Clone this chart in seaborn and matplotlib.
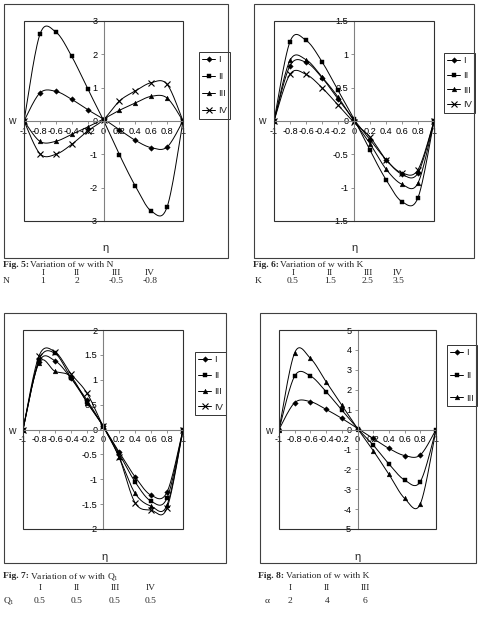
import numpy as np
import matplotlib
matplotlib.use('Agg')
import matplotlib.pyplot as plt
import seaborn as sns
from matplotlib.lines import Line2D
from matplotlib.patches import Rectangle

sns.set_theme(style='white')
plt.rcParams['font.family'] = ['Liberation Sans', 'DejaVu Sans']
plt.rcParams['mathtext.fontset'] = 'custom'
plt.rcParams['mathtext.rm'] = 'Liberation Serif'

# ---------------- data ----------------
eta = [-1.0, -0.8, -0.6, -0.4, -0.2, 0.0, 0.2, 0.4, 0.6, 0.8, 1.0]
eta_tick_labels = ['-1', '-0.8', '-0.6', '-0.4', '-0.2', '0', '0.2', '0.4', '0.6', '0.8', '1']

# Fig. 5 : variation of w with N
fig5_I = [0, 0.84, 0.89, 0.65, 0.34, 0.06, -0.26, -0.58, -0.80, -0.78, 0]
fig5_II = [0, 2.60, 2.67, 1.94, 0.97, 0.02, -1.01, -1.95, -2.70, -2.58, 0]
fig5_III = [0, -0.61, -0.61, -0.40, -0.18, 0.06, 0.32, 0.54, 0.74, 0.69, 0]
fig5_IV = [0, -0.98, -1.00, -0.70, -0.30, 0.04, 0.60, 0.90, 1.15, 1.10, 0]
fig5_yticks = [-3, -2, -1, 0, 1, 2, 3]
fig5_ytick_labels = ['-3', '-2', '-1', '0', '1', '2', '3']

# Fig. 6 : variation of w with K
fig6_I = [0, 0.83, 0.88, 0.65, 0.33, 0.02, -0.28, -0.58, -0.80, -0.78, 0]
fig6_II = [0, 1.19, 1.21, 0.89, 0.46, 0.03, -0.44, -0.88, -1.21, -1.15, 0]
fig6_III = [0, 0.91, 0.92, 0.66, 0.36, 0.0, -0.34, -0.72, -0.95, -0.93, 0]
fig6_IV = [0, 0.70, 0.70, 0.50, 0.24, -0.02, -0.24, -0.58, -0.78, -0.73, 0]
fig6_yticks = [-1.5, -1.0, -0.5, 0, 0.5, 1.0, 1.5]
fig6_ytick_labels = ['-1.5', '-1', '-0.5', '0', '0.5', '1', '1.5']

# Fig. 7 : variation of w with Q1
fig7_I = [0, 1.36, 1.38, 1.03, 0.59, 0.07, -0.45, -0.95, -1.32, -1.26, 0]
fig7_II = [0, 1.40, 1.53, 1.04, 0.56, 0.07, -0.48, -1.05, -1.44, -1.38, 0]
fig7_III = [0, 1.34, 1.17, 1.06, 0.54, 0.07, -0.55, -1.28, -1.54, -1.52, 0]
fig7_IV = [0, 1.48, 1.56, 1.12, 0.73, 0.07, -0.55, -1.47, -1.62, -1.58, 0]
fig7_yticks = [-2, -1.5, -1, -0.5, 0, 0.5, 1, 1.5, 2]
fig7_ytick_labels = ['-2', '-1.5', '-1', '-0.5', '0', '0.5', '1', '1.5', '2']

# Fig. 8 : variation of w with alpha
fig8_I = [0, 1.35, 1.40, 1.01, 0.56, 0.05, -0.45, -0.95, -1.31, -1.28, 0]
fig8_II = [0, 2.69, 2.69, 1.90, 0.98, 0.05, -0.78, -1.73, -2.54, -2.62, 0]
fig8_III = [0, 3.86, 3.58, 2.40, 1.23, 0.05, -1.06, -2.25, -3.46, -3.74, 0]
fig8_yticks = [-5, -4, -3, -2, -1, 0, 1, 2, 3, 4, 5]
fig8_ytick_labels = ['-5', '-4', '-3', '-2', '-1', '0', '1', '2', '3', '4', '5']

legend4 = ['I', 'II', 'III', 'IV']
legend3 = ['I', 'II', 'III']

# caption tables
fig5_cols = ['I', 'II', 'III', 'IV']; fig5_vals = ['1', '2', '-0.5', '-0.8']
fig6_cols = ['I', 'II', 'III', 'IV']; fig6_vals = ['0.5', '1.5', '2.5', '3.5']
fig7_cols = ['I', 'II', 'III', 'IV']; fig7_vals = ['0.5', '0.5', '0.5', '0.5']
fig8_cols = ['I', 'II', 'III']; fig8_vals = ['2', '4', '6']

markers = ['D', 's', '^', 'x']
msizes = [2.8, 3.0, 3.4, 3.8]

W, H = 481, 632


def fx(p):
    return p / W


def fy(p):
    return 1 - p / H


def smooth(x, y, n=24):
    """Excel-style smoothed line (Catmull-Rom Bezier) through the data points."""
    x = np.asarray(x, float); y = np.asarray(y, float)
    px = np.concatenate([[x[0]], x, [x[-1]]])
    py = np.concatenate([[y[0]], y, [y[-1]]])
    t = np.linspace(0, 1, n, endpoint=False)[:, None]
    xs, ys = [], []
    for i in range(1, len(px) - 2):
        p0 = np.array([px[i - 1], py[i - 1]]); p1 = np.array([px[i], py[i]])
        p2 = np.array([px[i + 1], py[i + 1]]); p3 = np.array([px[i + 2], py[i + 2]])
        c1 = p1 + (p2 - p0) / 6.0
        c2 = p2 - (p3 - p1) / 6.0
        b = ((1 - t) ** 3) * p1 + 3 * ((1 - t) ** 2) * t * c1 + 3 * (1 - t) * t ** 2 * c2 + t ** 3 * p2
        xs.append(b[:, 0]); ys.append(b[:, 1])
    xs.append([x[-1]]); ys.append([y[-1]])
    return np.concatenate(xs), np.concatenate(ys)


panels = [
    dict(plot=(24, 21, 183, 221), frame=(4, 4, 228, 258), series=[fig5_I, fig5_II, fig5_III, fig5_IV],
         labels=legend4, yt=fig5_yticks, ytl=fig5_ytick_labels, leg=(199, 52), lsp=0.85,
         w=(8, 121), eta_lab=(106, 248)),
    dict(plot=(274, 21, 434, 221), frame=(254, 4, 474, 258), series=[fig6_I, fig6_II, fig6_III, fig6_IV],
         labels=legend4, yt=fig6_yticks, ytl=fig6_ytick_labels, leg=(444, 53), lsp=0.6,
         w=(258, 121), eta_lab=(355, 248)),
    dict(plot=(23, 330, 183, 529), frame=(4, 313, 226, 563), series=[fig7_I, fig7_II, fig7_III, fig7_IV],
         labels=legend4, yt=fig7_yticks, ytl=fig7_ytick_labels, leg=(195, 352), lsp=0.72,
         w=(8, 431), eta_lab=(105, 557)),
    dict(plot=(279, 330, 436, 529), frame=(260, 313, 476, 563), series=[fig8_I, fig8_II, fig8_III],
         labels=legend3, yt=fig8_yticks, ytl=fig8_ytick_labels, leg=(447, 345), lsp=1.45,
         w=(265, 431), eta_lab=(358, 557)),
]

fig = plt.figure(figsize=(W / 100, H / 100), dpi=100)
fig.patch.set_facecolor('white')

for p in panels:
    x0, y0, x1, y1 = p['plot']
    ax = fig.add_axes([fx(x0), fy(y1), (x1 - x0) / W, (y1 - y0) / H])
    ax.set_facecolor('white')
    for k, ser in enumerate(p['series']):
        sx, sy = smooth(eta, ser)
        sns.lineplot(x=sx, y=sy, ax=ax, color='black', lw=0.7, sort=False, estimator=None, legend=False)
        ax.plot(eta, ser, linestyle='none', marker=markers[k], ms=msizes[k], color='black',
                mec='black', mew=0.8 if markers[k] == 'x' else 0.3)
    ymin, ymax = p['yt'][0], p['yt'][-1]
    ax.set_xlim(-1, 1)
    ax.set_ylim(ymin, ymax)
    ax.set_xticks(eta)
    ax.set_xticklabels(eta_tick_labels)
    ax.set_yticks(p['yt'])
    ax.set_yticklabels(p['ytl'])
    ax.spines['left'].set_position(('data', 0))
    ax.spines['bottom'].set_position(('data', 0))
    ax.spines['top'].set_visible(False)
    ax.spines['right'].set_visible(False)
    for s in ('left', 'bottom'):
        ax.spines[s].set_color('#808080')
        ax.spines[s].set_linewidth(0.8)
    ax.tick_params(axis='both', direction='out', length=2.5, width=0.6, color='#808080',
                   labelsize=6.6, pad=1.5, labelcolor='black', left=True, bottom=True)
    ax.add_patch(Rectangle((0, 0), 1, 1, transform=ax.transAxes, fill=False,
                           ec='#303030', lw=0.8, clip_on=False, zorder=5))
    handles = [Line2D([0], [0], color='black', lw=0.7, marker=markers[k], ms=msizes[k],
                      mew=0.8 if markers[k] == 'x' else 0.3) for k in range(len(p['labels']))]
    lx, ly = p['leg']
    leg = ax.legend(handles, p['labels'], loc='upper left', bbox_to_anchor=(fx(lx), fy(ly)),
                    bbox_transform=fig.transFigure, frameon=True, fancybox=False,
                    edgecolor='black', fontsize=6.8, borderpad=0.35, labelspacing=p['lsp'],
                    handlelength=1.35, handletextpad=0.3, borderaxespad=0)
    leg.get_frame().set_linewidth(0.7)
    fig.text(fx(p['w'][0]), fy(p['w'][1]), 'w', fontsize=7.5, ha='left', va='center')
    fig.text(fx(p['eta_lab'][0]), fy(p['eta_lab'][1]), 'η', fontsize=8, ha='center', va='center')
    fx0, fy0, fx1, fy1 = p['frame']
    fig.add_artist(Rectangle((fx(fx0), fy(fy1)), (fx1 - fx0) / W, (fy1 - fy0) / H,
                             transform=fig.transFigure, fill=False, ec='#404040', lw=0.8))

# captions
serif = ['Liberation Serif', 'DejaVu Serif']
fig.canvas.draw()
renderer = fig.canvas.get_renderer()


def caption(x, y, bold, rest):
    t = fig.text(fx(x), fy(y), bold, fontsize=6.8, family=serif, weight='bold', ha='left', va='center')
    bb = t.get_window_extent(renderer=renderer)
    fig.text(bb.x1 / W + 1.5 / W, fy(y), rest, fontsize=6.8, family=serif, ha='left', va='center')


def table(xlab, name, cols, vals, xs, yrow1, yrow2):
    for c, v, xx in zip(cols, vals, xs):
        fig.text(fx(xx), fy(yrow1), c, fontsize=6.8, family=serif, ha='center', va='center')
        fig.text(fx(xx), fy(yrow2), v, fontsize=6.8, family=serif, ha='center', va='center')
    fig.text(fx(xlab), fy(yrow2), name, fontsize=6.8, family=serif, ha='left', va='center')


caption(3, 265, 'Fig. 5:', 'Variation of w with N')
table(3, 'N', fig5_cols, fig5_vals, [43, 77, 116, 150], 273, 281)
caption(253, 265, 'Fig. 6:', 'Variation of w with K')
table(255, 'K', fig6_cols, fig6_vals, [293, 330, 368, 398], 273, 281)
caption(3, 576, 'Fig. 7:', r'Variation of w with $\mathrm{Q_1}$')
table(3, r'$\mathrm{Q_1}$', fig7_cols, fig7_vals, [40, 77, 115, 151], 588, 601)
caption(258, 576, 'Fig. 8:', 'Variation of w with K')
table(265, 'α', fig8_cols, fig8_vals, [290, 327, 365], 588, 601)

fig.savefig('out.png', dpi=100, facecolor='white')
